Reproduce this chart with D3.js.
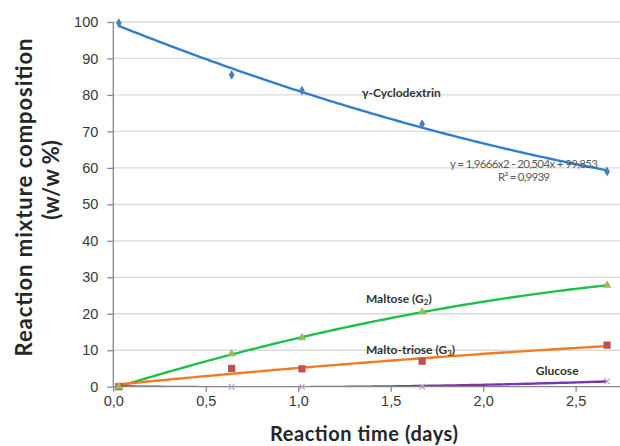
<!DOCTYPE html>
<html>
<head>
<meta charset="utf-8">
<script src="https://cdn.jsdelivr.net/npm/d3@7"></script>
<style>
  body { margin: 0; background: #fff; }
  svg { display: block; font-family: Lato, "Open Sans", sans-serif; }
  .grid line { stroke: #d9d9d9; stroke-width: 1.3; }
  .axis path, .axis line { stroke: #868686; stroke-width: 1.3; }
  .axis text { fill: #383838; font-size: 14.5px; }
</style>
</head>
<body>
<svg id="chart" width="620" height="446"></svg>
<script>
// reaction time (days) for every sample
const times = [0.03, 0.64, 1.02, 1.67, 2.67];

// composition (w/w %)
const cyclodextrin = [99.7, 85.5, 81.2, 72.0, 59.0];
const maltose = [0.0, 9.0, 13.4, 20.5, 27.8];
const maltotriose = [0.0, 5.0, 4.9, 7.0, 11.4];
const glucose = [0.0, 0.0, 0.0, 0.0, 1.5];

const xTicks = [0, 0.5, 1.0, 1.5, 2.0, 2.5];
const yTicks = [0, 10, 20, 30, 40, 50, 60, 70, 80, 90, 100];

let svg = d3.select("#chart");

let plotLeft = 113.3, plotRight = 620, plotTop = 22, plotBottom = 386.7;

let x = d3.scaleLinear().domain([0, 2.74]).range([plotLeft, plotRight]);
let y = d3.scaleLinear().domain([0, 100]).range([plotBottom, plotTop]);

let comma = function (d) { return d3.format(".1f")(d).replace(".", ","); };

// horizontal gridlines
svg.append("g")
    .attr("class", "grid")
    .selectAll("line")
    .data(yTicks.slice(1))
    .enter().append("line")
    .attr("x1", plotLeft).attr("x2", plotRight)
    .attr("y1", function (d) { return y(d); })
    .attr("y2", function (d) { return y(d); });

// second order polynomial least squares, like the spreadsheet trendline
function polyFit(xs, ys) {
    let s = [0, 0, 0, 0, 0], t = [0, 0, 0];
    for (let i = 0; i < xs.length; i++) {
        for (let k = 0; k < 5; k++) s[k] += Math.pow(xs[i], k);
        for (let k = 0; k < 3; k++) t[k] += ys[i] * Math.pow(xs[i], k);
    }
    let m = [[s[0], s[1], s[2], t[0]], [s[1], s[2], s[3], t[1]], [s[2], s[3], s[4], t[2]]];
    for (let i = 0; i < 3; i++) {
        for (let j = i + 1; j < 3; j++) {
            let f = m[j][i] / m[i][i];
            for (let k = i; k < 4; k++) m[j][k] -= f * m[i][k];
        }
    }
    let c = [0, 0, 0];
    for (let i = 2; i >= 0; i--) {
        let v = m[i][3];
        for (let k = i + 1; k < 3; k++) v -= m[i][k] * c[k];
        c[i] = v / m[i][i];
    }
    return c;
}

// trendlines are cut off at the plot edges (glucose dips below zero)
svg.append("defs").append("clipPath").attr("id", "plot")
    .append("rect").attr("x", plotLeft).attr("y", plotTop - 2)
    .attr("width", plotRight - plotLeft).attr("height", plotBottom - plotTop + 2);

let series = [
    { values: cyclodextrin, line: "#2f7fd0", mark: "#4a7ebf", shape: d3.symbolDiamond, size: 28 },
    { values: maltose, line: "#1fbf4a", mark: "#9bbb59", shape: d3.symbolTriangle, size: 32 },
    { values: maltotriose, line: "#f47a20", mark: "#c0504d", shape: d3.symbolSquare, size: 52 },
    { values: glucose, line: "#7b35b0", mark: "#b6a3d1", shape: d3.symbolCross, size: 26 }
];

let trend = d3.line()
    .x(function (d) { return x(d[0]); })
    .y(function (d) { return y(d[1]); });

series.forEach(function (s) {
    let c = polyFit(times, s.values);
    let pts = d3.range(times[0], times[times.length - 1] + 0.001, 0.02).map(function (t) {
        return [t, c[0] + c[1] * t + c[2] * t * t];
    });
    svg.append("path")
        .datum(pts)
        .attr("clip-path", "url(#plot)")
        .attr("fill", "none")
        .attr("stroke", s.line)
        .attr("stroke-width", 2.4)
        .attr("d", trend);
});

// axes go over the trendlines
svg.append("g")
    .attr("class", "axis")
    .attr("transform", "translate(" + plotLeft + ",0)")
    .call(d3.axisLeft(y).tickValues(yTicks).tickSize(6).tickPadding(9))
    .call(function (g) { g.select(".domain").attr("d", "M0," + plotTop + "V" + plotBottom); });

svg.append("g")
    .attr("class", "axis")
    .attr("transform", "translate(0," + plotBottom + ")")
    .call(d3.axisBottom(x).tickValues(xTicks).tickFormat(comma).tickSize(5).tickPadding(4))
    .call(function (g) { g.select(".domain").attr("d", "M" + plotLeft + ",0H" + plotRight); });

series.slice().reverse().forEach(function (s) {
    let isCross = s.shape === d3.symbolCross;
    svg.append("g").selectAll("path")
        .data(s.values)
        .enter().append("path")
        .attr("transform", function (d, i) {
            return "translate(" + x(times[i]) + "," + y(d) + ")" + (isCross ? " rotate(45)" : "");
        })
        .attr("d", isCross ? "M-4,0H4M0,-4V4" : d3.symbol().type(s.shape).size(s.size)())
        .attr("fill", isCross ? "none" : s.mark)
        .attr("stroke", isCross ? s.mark : "none")
        .attr("stroke-width", 1.2);
});

// series annotations
let notes = [
    { text: "\u03b3-Cyclodextrin", x: 1.344, y: 79.4 },
    { text: "Maltose (G", sub: "2", tail: ")", x: 1.366, y: 22.9 },
    { text: "Malto-triose (G", sub: "3", tail: ")", x: 1.366, y: 9.1 },
    { text: "Glucose", x: 2.285, y: 3.2 }
];

notes.forEach(function (n) {
    let t = svg.append("text")
        .attr("x", x(n.x)).attr("y", y(n.y))
        .attr("font-size", "12px").attr("font-weight", "bold").attr("fill", "#333")
        .text(n.text);
    if (n.sub) {
        t.append("tspan").attr("font-size", "8px").attr("dy", 2).text(n.sub);
        t.append("tspan").attr("dy", -2).text(n.tail);
    }
});

svg.append("text")
    .attr("x", 450).attr("y", 168)
    .attr("font-size", "11.5px").attr("fill", "#595959")
    .attr("textLength", 148)
    .text("y = 1,9666x2 - 20,504x + 99,853");
svg.append("text")
    .attr("x", 498).attr("y", 181)
    .attr("font-size", "11.5px").attr("fill", "#595959")
    .attr("textLength", 52)
    .text("R\u00b2 = 0,9939");

// axis titles
svg.append("text")
    .attr("x", 364).attr("y", 441)
    .attr("text-anchor", "middle")
    .attr("font-size", "20px").attr("font-weight", "bold").attr("fill", "#262626")
    .attr("textLength", 188)
    .text("Reaction time  (days)");

let yTitle = svg.append("g").attr("transform", "translate(32,197.5) rotate(-90)");
yTitle.append("text")
    .attr("text-anchor", "middle")
    .attr("font-size", "22px").attr("font-weight", "bold").attr("fill", "#262626")
    .attr("textLength", 318)
    .text("Reaction mixture composition");
yTitle.append("text")
    .attr("x", 17.5).attr("y", 27)
    .attr("text-anchor", "middle")
    .attr("font-size", "22px").attr("font-weight", "bold").attr("fill", "#262626")
    .text("(w/w %)");
</script>
</body>
</html>
